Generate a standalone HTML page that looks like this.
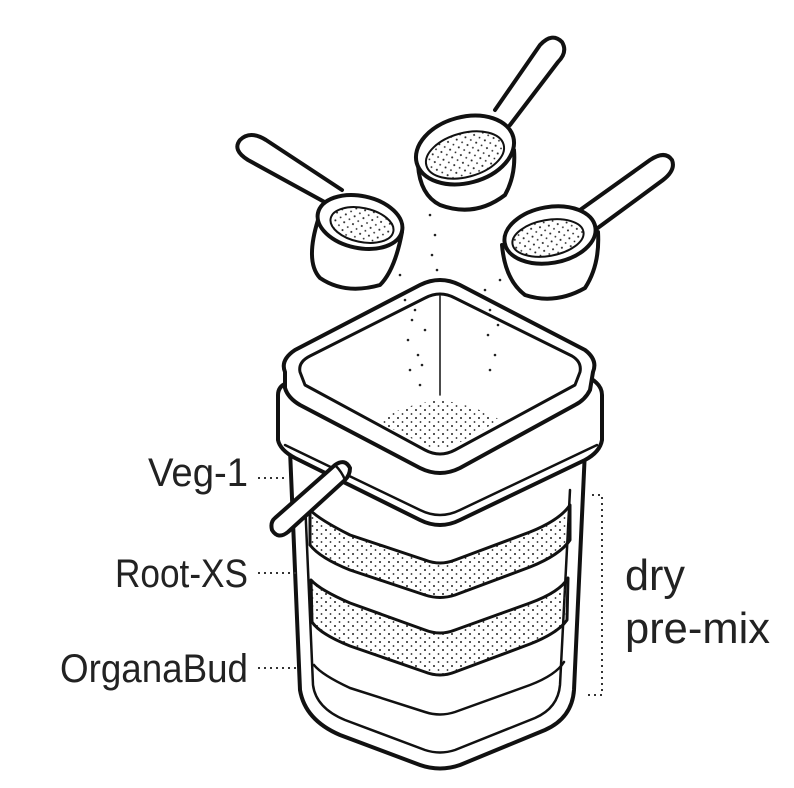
<!DOCTYPE html>
<html><head><style>
html,body{margin:0;padding:0;background:#fff;}
svg{display:block}
text{font-family:"Liberation Sans Narrow","Liberation Sans",sans-serif;fill:#222;}
</style></head><body>
<svg width="794" height="788" viewBox="0 0 794 788" xmlns="http://www.w3.org/2000/svg">
<defs>
<pattern id="dots" width="9" height="8" patternUnits="userSpaceOnUse">
<circle cx="2" cy="2" r="1" fill="#222"/><circle cx="6.5" cy="6" r="0.9" fill="#222"/>
</pattern>
</defs>
<g fill="none" stroke="#111" stroke-width="4" stroke-linejoin="round" stroke-linecap="round">
<!-- left scoop -->
<path d="M330,205 L248,160 Q232,150 240,140 Q250,130 266,140 L342,190" fill="#fff"/>
<path d="M318,220 Q305,262 320,278 Q345,295 380,285 Q395,270 402,232" fill="#fff"/>
<ellipse cx="360" cy="222" rx="43" ry="26" transform="rotate(12 360 222)" fill="#fff"/>
<ellipse cx="362" cy="225" rx="32" ry="17" transform="rotate(12 362 225)" fill="url(#dots)" stroke-width="2"/>
<!-- middle scoop -->
<path d="M495,110 L540,45 Q552,32 562,42 Q568,52 558,62 L510,125" fill="#fff"/>
<path d="M418,165 Q420,195 440,205 Q475,218 505,195 Q516,175 514,150" fill="#fff"/>
<ellipse cx="465" cy="150" rx="50" ry="33" transform="rotate(-15 465 150)" fill="#fff"/>
<ellipse cx="465" cy="155" rx="40" ry="22" transform="rotate(-15 465 155)" fill="url(#dots)" stroke-width="2"/>
<!-- right scoop -->
<path d="M580,210 L650,160 Q665,150 672,160 Q676,170 663,180 L595,230" fill="#fff"/>
<path d="M502,245 Q505,280 525,295 Q555,305 585,288 Q600,265 598,232" fill="#fff"/>
<ellipse cx="550" cy="235" rx="46" ry="28" transform="rotate(-10 550 235)" fill="#fff"/>
<ellipse cx="548" cy="238" rx="36" ry="18" transform="rotate(-10 548 238)" fill="url(#dots)" stroke-width="2"/>
<!-- bucket body -->
<path d="M290,450 L300,690 Q305,720 340,735 L420,765 Q440,772 460,765 L545,730 Q572,718 574,690 L585,450 Z" fill="#fff"/>
<path d="M305,500 L313,685 Q316,708 345,720 L425,750 Q440,755 455,750 L535,718 Q558,708 560,685 L570,490" stroke-width="2.5"/>
<!-- sand layers -->
<path d="M310,510 Q320,520 350,535 L425,560 Q440,566 455,560 L530,532 Q560,520 570,505 L570,540 Q560,555 530,567 L455,595 Q440,600 425,595 L350,570 Q320,558 310,545 Z" fill="url(#dots)" stroke-width="3"/>
<path d="M311,580 Q320,590 350,603 L425,630 Q440,636 455,630 L530,603 Q560,592 568,578 L567,620 Q558,633 530,644 L455,672 Q440,678 425,672 L350,646 Q320,634 312,622 Z" fill="url(#dots)" stroke-width="3"/>
<path d="M314,665 Q322,675 350,688 L425,712 Q440,717 455,712 L530,685 Q556,675 564,662" stroke-width="2.5"/>
<!-- lid band -->
<path d="M278,395 Q278,385 290,382 L440,300 L590,378 Q602,385 602,395 L602,440 Q600,452 585,460 L460,520 Q440,530 420,520 L295,458 Q280,450 278,440 Z" fill="#fff"/>
<path d="M285,445 L420,510 Q440,520 460,510 L597,445" stroke-width="2.5"/>
<!-- lid rim top -->
<path d="M285,372 Q280,360 295,350 L420,285 Q440,275 460,285 L585,350 Q598,360 593,372 L590,390 Q585,400 575,405 L460,468 Q440,478 420,468 L300,405 Q288,398 285,388 Z" fill="#fff"/>
<path d="M300,372 Q298,362 310,356 L425,298 Q440,290 455,298 L572,356 Q582,362 580,372 L575,385 L455,450 Q440,458 425,450 L305,385 Z" stroke-width="3"/>
<path d="M440,296 L440,395" stroke-width="1.5"/>
<path d="M378,422 Q400,405 440,400 Q475,405 500,420 L455,445 Q440,452 425,445 Z" fill="url(#dots)" stroke-width="0"/>
<!-- handle -->
<path d="M275,518 L335,465 Q345,458 350,468 Q350,475 345,480 L288,532 Q278,540 272,530 Q270,522 275,518 Z" fill="#fff"/>
<path d="M335,465 Q342,472 345,480" stroke-width="2.5"/>
<!-- falling powder -->
<g stroke="none" fill="#222">
<circle cx="400" cy="275" r="1.3"/><circle cx="405" cy="300" r="1.3"/><circle cx="412" cy="320" r="1.3"/><circle cx="408" cy="340" r="1.3"/><circle cx="418" cy="355" r="1.3"/><circle cx="410" cy="370" r="1.3"/><circle cx="420" cy="385" r="1.3"/><circle cx="415" cy="310" r="1.3"/><circle cx="425" cy="330" r="1.3"/><circle cx="422" cy="365" r="1.3"/><circle cx="430" cy="215" r="1.3"/><circle cx="435" cy="235" r="1.3"/><circle cx="432" cy="255" r="1.3"/><circle cx="437" cy="270" r="1.3"/>
<circle cx="485" cy="290" r="1.3"/><circle cx="490" cy="310" r="1.3"/><circle cx="488" cy="335" r="1.3"/><circle cx="495" cy="355" r="1.3"/><circle cx="490" cy="370" r="1.3"/><circle cx="500" cy="280" r="1.3"/><circle cx="498" cy="325" r="1.3"/>
</g>
</g>
<!-- leaders -->
<g stroke="#333" stroke-width="2" stroke-dasharray="2 4" fill="none">
<line x1="258" y1="478" x2="288" y2="478"/>
<line x1="258" y1="573" x2="296" y2="573"/>
<line x1="258" y1="668" x2="296" y2="668"/>
<path d="M592,495 L602,495 L602,695 L585,695"/>
</g>
<text x="148" y="486" font-size="40" textLength="100" lengthAdjust="spacingAndGlyphs">Veg-1</text>
<text x="115" y="587" font-size="40" textLength="133" lengthAdjust="spacingAndGlyphs">Root-XS</text>
<text x="60" y="682" font-size="40" textLength="188" lengthAdjust="spacingAndGlyphs">OrganaBud</text>
<text x="625" y="590" font-size="44" textLength="60" lengthAdjust="spacingAndGlyphs">dry</text>
<text x="625" y="643" font-size="44" textLength="145" lengthAdjust="spacingAndGlyphs">pre-mix</text>
</svg>
</body></html>
